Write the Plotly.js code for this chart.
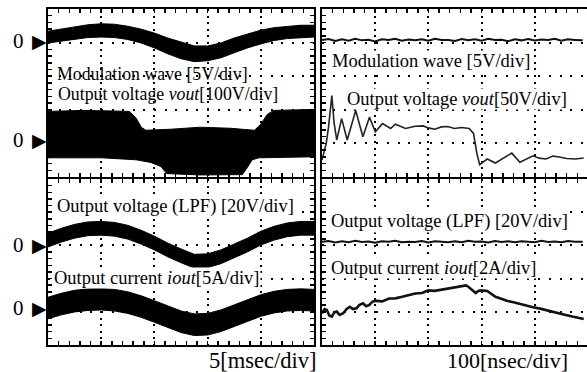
<!DOCTYPE html>
<html><head><meta charset="utf-8">
<script src="https://cdn.plot.ly/plotly-3.0.1.min.js"></script>
<style>html,body{margin:0;padding:0;background:#fff}#chart{width:587px;height:372px}</style>
</head><body><div id="chart"></div>
<script>
// ===== DATA =====
// Left panel: time in msec (5 msec/div)
const tLeft = [0,1.25,2.5,3.75,5,6.25,7.5,8.75,10,11.25,12.5,13.75,15,16.25,17.5,18.75,20,21.25,22.5,23.75,25];
// Modulation wave envelope [V]
const modUpperL = [1.42,1.72,2.01,2.37,2.52,2.45,2.15,1.72,1.13,0.40,-0.19,-0.78,-0.78,-0.34,0.40,0.98,1.57,1.94,2.15,2.30,2.30];
const modLowerL = [-0.34,-0.04,0.25,0.47,0.54,0.47,0.18,-0.34,-1.07,-1.95,-2.68,-3.12,-2.98,-2.54,-1.80,-1.07,-0.48,0.03,0.32,0.47,0.54];
// Output voltage vout envelope [V]
const voutUpperT = [0,3.2,6.0,7.66,8.3,8.76,9.2,11.5,14.3,17.1,19.4,20.0,20.6,21.2,25];
const voutUpperL = [85,88,86.5,85,64.5,38,29,32,38,35,29,47,76,88,91];
const voutLowerT = [0,5.07,8.3,9.68,10.61,11.16,14.3,18.27,18.73,19.19,19.83,25];
const voutLowerL = [-53,-53,-59,-67,-79,-100,-104,-103,-82,-59,-53,-50];
// Output voltage (LPF) envelope [V]
const lpfUpperL = [7.1,10.06,12.43,13.9,14.2,13.6,11.83,8.88,5.33,1.18,-2.37,-5.62,-5.33,-2.96,0.59,4.14,8.28,11.24,13.31,14.2,14.2];
const lpfLowerL = [-1.18,1.78,4.14,5.62,5.92,5.33,3.55,0.59,-2.96,-7.1,-10.65,-13.9,-13.6,-11.24,-7.69,-4.14,0,2.96,5.03,5.92,5.92];
// Output current iout envelope [A]
const ioutUpperL = [1.67,2.26,2.71,2.93,3.00,2.85,2.48,1.89,1.15,0.34,-0.40,-0.84,-0.77,-0.25,0.49,1.30,2.04,2.56,2.85,2.93,2.85];
const ioutLowerL = [-1.58,-0.99,-0.55,-0.33,-0.25,-0.40,-0.77,-1.36,-2.10,-2.91,-3.65,-4.10,-4.02,-3.51,-2.77,-1.95,-1.21,-0.70,-0.40,-0.33,-0.40];

// Right panel: time in nsec (100 nsec/div)
const tFlatR = [0,12.5,25,37.5,50,62.5,75,87.5,100,112.5,125,137.5,150,162.5,175,187.5,200,212.5,225,237.5,250,262.5,275,287.5,300,312.5,325,337.5,350,362.5,375,387.5,400,412.5,425,437.5,450,462.5,475,490];
const modR = [0.1,0.25,-0.05,0.2,0.0,0.3,0.05,0.15,-0.1,0.2,0.1,0.28,-0.02,0.18,0.05,0.22,0.0,0.3,0.1,0.12,-0.05,0.25,0.08,0.2,0.0,0.3,0.1,0.15,-0.08,0.22,0.05,0.25,0.02,0.18,0.1,0.28,0.0,0.2,0.12,0.05];
const lpfR = [1.9,2.4,1.5,2.2,1.7,2.5,1.8,2.1,1.4,2.3,1.9,2.6,1.6,2.0,1.8,2.4,1.5,2.2,2.0,1.7,2.3,1.6,2.5,1.9,2.1,1.5,2.4,1.8,2.2,1.6,2.3,2.0,1.7,2.5,1.8,2.1,1.6,2.4,1.9,2.0];
const tVoutR = [0,1.8,8,12.3,18.5,22.8,27.7,36.9,47.4,63.3,76.9,89.2,100.3,113.8,129,138,157,175,190,200,212,224.5,236,249,262,276.8,284.8,291,296.4,310.6,326,356.7,372,396.7,408,421,434,446,460,476.6,492];
const voutR = [-30,-24.5,-4.9,19.5,66,25,0,31.8,0,44,4.9,34,12.2,24.4,17.1,23.5,17.1,20.5,21,18,16,19.5,20,17.1,18.5,17.1,9.8,-19.5,-36.7,-28.3,-34.2,-19.5,-33.2,-23.5,-27,-28.3,-24,-25.4,-27.5,-28.3,-26.9];
const tIoutR = [0,5,9,14,18.5,23,27.7,33,40,46,52,58,64.6,70,77,83,89,95,101.5,113,126,138,150.7,163,175.3,188,199.8,212,224.5,237,249,260,270.7,275,279.9,289.1,294,298.3,310.5,318,326,337,347.4,360,372.1,385,396.7,410,421.2,434,446,458,470.5,482,492];
const ioutR = [-0.30,-0.05,-0.10,-0.45,-0.50,-0.25,-0.20,-0.40,-0.30,-0.05,0.09,-0.05,0.00,0.20,0.30,0.12,0.20,0.40,0.45,0.42,0.59,0.60,0.69,0.78,0.89,0.92,1.08,1.05,1.12,1.20,1.28,1.30,1.38,1.30,1.18,0.92,1.05,1.08,1.04,0.85,0.69,0.58,0.45,0.36,0.25,0.15,0.06,-0.02,-0.10,-0.20,-0.30,-0.40,-0.50,-0.58,-0.65];

// Texts
const labelTexts = ['Modulation wave [5V/div]','Output voltage <i>vout</i>[100V/div]','Output voltage (LPF) [20V/div]','Output current <i>iout</i>[5A/div]','5[msec/div]',
  'Modulation wave [5V/div]','Output voltage <i>vout</i>[50V/div]','Output voltage (LPF) [20V/div]','Output current <i>iout</i>[2A/div]','100[nsec/div]'];

// ===== LAYOUT =====
const W=587,H=372;
const FONT='Liberation Serif, Times New Roman, serif';
const fx=p=>p/W, fy=p=>1-p/H;
const PX={L:[48,314],R:[322,587]};
const PY={T:[9,177],B:[179,345]};
const rightRangeNs=(PX.R[1]-PX.R[0])/((PX.L[1]-PX.L[0])/5)*100;

function xAx(dom,anchor,range,dt,mdt,dash){
  return {domain:[fx(dom[0]),fx(dom[1])],anchor,range,showline:true,linewidth:2,linecolor:'black',mirror:'ticks',
    ticks:'inside',ticklen:4,tickwidth:1.5,tickcolor:'black',tick0:0,dtick:dt,showticklabels:false,
    showgrid:true,gridcolor:'black',gridwidth:2,griddash:dash,zeroline:false,fixedrange:true,
    minor:{ticks:'inside',tick0:0,dtick:mdt,ticklen:4,tickwidth:1.5,tickcolor:'black',showgrid:false}};
}
function yAx(dom,anchor,mirror,dash){
  return {domain:[fy(dom[1]),fy(dom[0])],anchor,range:[0,5],showline:true,linewidth:2,linecolor:'black',mirror,
    ticks:'inside',ticklen:4,tickwidth:1.5,tickcolor:'black',tick0:0,dtick:1,showticklabels:false,
    showgrid:true,gridcolor:'black',gridwidth:2,griddash:dash,zeroline:false,fixedrange:true,
    minor:{ticks:'inside',tick0:0,dtick:0.2,ticklen:4,tickwidth:1.5,tickcolor:'black',showgrid:false}};
}
const layout={width:W,height:H,margin:{l:0,r:0,t:0,b:0},paper_bgcolor:'white',plot_bgcolor:'white',showlegend:false,
  xaxis: xAx(PX.L,'y',[0,25],5,1,'2px,4.6px'),
  xaxis2:xAx(PX.L,'y2',[0,25],5,1,'2px,4.6px'),
  xaxis3:xAx(PX.R,'y3',[0,rightRangeNs],100,20,'2px,4.6px'),
  xaxis4:xAx(PX.R,'y4',[0,rightRangeNs],100,20,'2px,4.6px'),
  yaxis: yAx(PY.T,'x','ticks','2px,8.6px'),
  yaxis2:yAx(PY.B,'x2','ticks','2px,8.6px'),
  yaxis3:yAx(PY.T,'x3',false,'2px,8.8px'),
  yaxis4:yAx(PY.B,'x4',false,'2px,8.8px'),
  annotations:[]};

// channel settings: volts (or amps) per division and zero-marker height on screen
const CH={
  modL:{x:'x', y:'y', perDiv:5,  zeroPx:40.7, half:'T', marker:true},
  voutL:{x:'x', y:'y', perDiv:100,zeroPx:140,  half:'T', marker:true},
  lpfL:{x:'x2',y:'y2',perDiv:20, zeroPx:245,  half:'B', marker:true},
  ioutL:{x:'x2',y:'y2',perDiv:5,  zeroPx:308.3,half:'B', marker:true},
  modR:{x:'x3',y:'y3',perDiv:5,  zeroPx:40.7, half:'T'},
  voutR:{x:'x3',y:'y3',perDiv:50, zeroPx:140,  half:'T'},
  lpfR:{x:'x4',y:'y4',perDiv:20, zeroPx:245,  half:'B'},
  ioutR:{x:'x4',y:'y4',perDiv:2,  zeroPx:308.3,half:'B'}};
Object.values(CH).forEach(c=>{
  const d=PY[c.half]; c.z=(d[1]-c.zeroPx)/((d[1]-d[0])/5);
  if(c.marker){
    layout.annotations.push({xref:'paper',yref:c.y,x:fx(25),y:c.z,xanchor:'right',yanchor:'middle',text:'0',showarrow:false,
      font:{family:FONT,size:21,color:'black'},borderpad:0});
    layout.annotations.push({xref:'paper',yref:c.y,x:fx(48),y:c.z,xanchor:'right',yanchor:'middle',text:'\u25B6',showarrow:false,
      font:{family:'DejaVu Sans',size:19,color:'black'},borderpad:0});
  }
});
// scope screen position (divisions) of a channel value
const scr=(vals,c)=>vals.map(v=>v/c.perDiv+c.z);

// text labels
const labelPos=[[56,74,'left'],[57,94,'left'],[56,206.5,'left'],[53,278,'left'],[317,360,'right'],
  [331,61,'left'],[346,99,'left'],[330,221.5,'left'],[330,268,'left'],[569,360,'right']];
const labelSize=[17.8,17.8,18.5,18.5,22.5,18.5,18.5,18.5,18.5,22];
const labelBg=[false,false,true,true,false,true,true,true,true,false];
labelTexts.forEach((t,i)=>{
  const p=labelPos[i];
  layout.annotations.push({xref:'paper',yref:'paper',x:fx(p[0]),y:fy(p[1]),xanchor:p[2],yanchor:'middle',text:t,showarrow:false,
    font:{family:FONT,size:labelSize[i],color:'black'},bgcolor:labelBg[i]?'white':'rgba(0,0,0,0)',borderpad:0});
});

// ===== TRACES =====
function band(tl,lo,tu,up,c){
  return [
    {x:tl,y:scr(lo,c),xaxis:c.x,yaxis:c.y,mode:'lines',line:{color:'black',width:1},hoverinfo:'skip'},
    {x:tu,y:scr(up,c),xaxis:c.x,yaxis:c.y,mode:'lines',line:{color:'black',width:1},fill:'tonexty',fillcolor:'black',hoverinfo:'skip'}];
}
function wave(t,v,c,w,col){
  return {x:t,y:scr(v,c),xaxis:c.x,yaxis:c.y,mode:'lines',line:{color:col,width:w},hoverinfo:'skip'};
}
const traces=[].concat(
  band(tLeft,modLowerL,tLeft,modUpperL,CH.modL),
  band(voutLowerT,voutLowerL,voutUpperT,voutUpperL,CH.voutL),
  band(tLeft,lpfLowerL,tLeft,lpfUpperL,CH.lpfL),
  band(tLeft,ioutLowerL,tLeft,ioutUpperL,CH.ioutL),
  [wave(tFlatR,modR,CH.modR,2,'#111'),
   wave(tVoutR,voutR,CH.voutR,1.6,'#222'),
   wave(tFlatR,lpfR,CH.lpfR,2,'#111'),
   wave(tIoutR,ioutR,CH.ioutR,2.6,'#111')]
);
Plotly.newPlot('chart',traces,layout,{staticPlot:true,displayModeBar:false});
</script></body></html>
